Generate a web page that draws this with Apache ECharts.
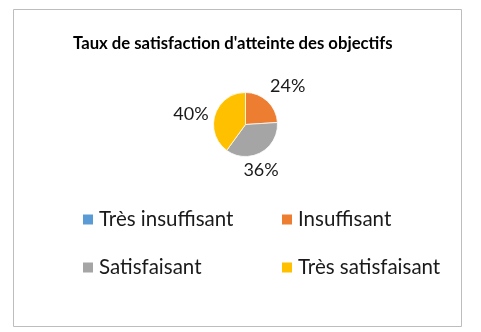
<!DOCTYPE html>
<html>
<head>
<meta charset="utf-8">
<script src="https://cdn.jsdelivr.net/npm/echarts@6/dist/echarts.min.js"></script>
<style>
  html, body { margin: 0; padding: 0; background: #fff; }
  #chart { width: 481px; height: 332px; }
</style>
</head>
<body>
<div id="chart"></div>
<script>
// Satisfaction levels and their share of responses (%)
const categories = ['Très insuffisant', 'Insuffisant', 'Satisfaisant', 'Très satisfaisant'];
const shares = [0, 24, 36, 40];
const colors = ['#5B9BD5', '#ED7D31', '#A5A5A5', '#FFC000'];

const titleText = "Taux de satisfaction d'atteinte des objectifs";

// Pie geometry (pixels)
const pieCenter = [245.5, 124.5];
const pieRadius = 32;
// Percentage labels sit on a ring around the pie, with a small per-label nudge
const labelRing = 50;
const labelNudge = [[0, 0], [8, -2], [-8.5, 1.5], [-7, 5]];

// Legend grid: two columns, two rows
const legendCols = [81, 280];
const legendRows = [209, 257];

const total = shares.reduce((a, b) => a + b, 0);
function midAngle(i) {
  let cum = 0;
  for (let k = 0; k < i; k++) cum += shares[k];
  return ((cum + shares[i] / 2) / total) * 2 * Math.PI;
}

const chart = echarts.init(document.getElementById('chart'), null, { renderer: 'canvas' });

const legends = categories.map((name, i) => ({
  data: [name],
  orient: 'horizontal',
  padding: 0,
  left: legendCols[i % 2],
  top: legendRows[Math.floor(i / 2)],
  itemWidth: 12, itemHeight: 12,
  icon: 'rect',
  textStyle: { fontFamily: 'Lato', fontSize: 20.5, color: '#1a1a1a' }
}));

chart.setOption({
  backgroundColor: '#ffffff',
  animation: false,
  color: colors,
  title: {
    text: titleText,
    left: 73,
    top: 35,
    padding: 0,
    textStyle: { fontFamily: 'Lato', fontWeight: 'bold', fontSize: 16.7, color: '#000' }
  },
  legend: legends,
  graphic: [{
    type: 'rect',
    shape: { x: 13.5, y: 9.5, width: 448, height: 317 },
    style: { fill: 'none', stroke: '#bdbdbd', lineWidth: 1 },
    silent: true, z: -1
  }],
  series: [{
    type: 'pie',
    center: pieCenter,
    radius: pieRadius,
    startAngle: 90,
    clockwise: true,
    avoidLabelOverlap: false,
    stillShowZeroSum: true,
    itemStyle: { borderColor: '#ffffff', borderWidth: 0.75 },
    label: {
      show: true,
      position: 'outside',
      formatter: p => (p.value === 0 ? '' : p.percent + '%'),
      fontFamily: 'Lato',
      fontSize: 18,
      color: '#1a1a1a'
    },
    labelLine: { show: false },
    labelLayout: p => {
      const a = midAngle(p.dataIndex);
      const n = labelNudge[p.dataIndex];
      return {
        x: pieCenter[0] + Math.sin(a) * labelRing + n[0],
        y: pieCenter[1] - Math.cos(a) * labelRing + n[1],
        align: 'center',
        verticalAlign: 'middle'
      };
    },
    emphasis: { disabled: true },
    data: categories.map((name, i) => ({ name, value: shares[i] }))
  }]
});
</script>
</body>
</html>
